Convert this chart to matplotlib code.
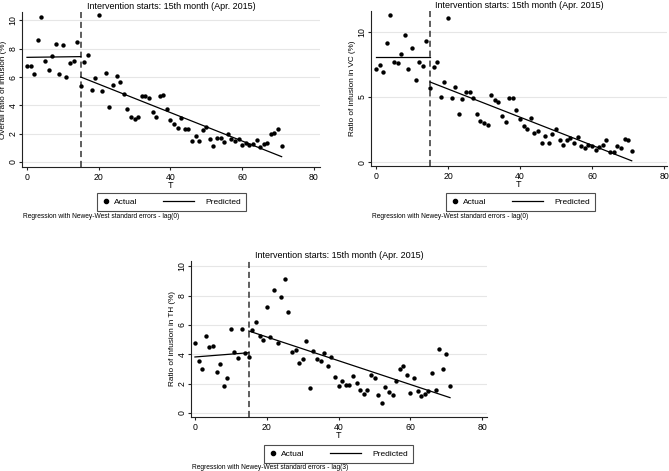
import matplotlib
matplotlib.use("Agg")
import matplotlib.pyplot as plt
from matplotlib.lines import Line2D
from matplotlib.legend_handler import HandlerLine2D

plt.rcParams['font.family'] = ['Liberation Sans', 'DejaVu Sans']

months = list(range(0, 72))

overall = [6.78, 6.78, 6.19, 8.61, 10.26, 7.13, 6.49, 7.48, 8.31, 6.24, 8.28, 6.00, 6.99, 7.11, 8.49,
           5.34, 7.04, 7.53, 5.06, 5.91, 10.35, 4.99, 6.28, 3.91, 5.41, 6.07, 5.67, 4.78, 3.76, 3.18,
           3.06, 3.15, 4.66, 4.66, 4.54, 3.55, 3.20, 4.66, 4.73, 3.72, 3.00, 2.68, 2.40, 3.10, 2.30,
           2.30, 1.46, 1.84, 1.51, 2.24, 2.49, 1.60, 1.11, 1.72, 1.72, 1.39, 1.95, 1.65, 1.51, 1.65,
           1.20, 1.32, 1.20, 1.29, 1.58, 1.04, 1.29, 1.32, 1.98, 2.07, 2.33, 1.13]

vc = [7.15, 7.46, 6.90, 9.18, 11.28, 7.69, 7.59, 8.31, 9.72, 7.13, 8.74, 6.33, 7.67, 7.36, 9.33,
      5.67, 7.33, 7.69, 5.00, 6.13, 11.03, 4.95, 5.77, 3.67, 4.82, 5.41, 5.41, 4.90, 3.67, 3.15,
      3.00, 2.85, 5.18, 4.74, 4.64, 3.56, 3.08, 4.95, 4.95, 3.97, 3.33, 2.79, 2.51, 3.38, 2.26,
      2.41, 1.44, 2.00, 1.46, 2.15, 2.51, 1.72, 1.28, 1.69, 1.87, 1.46, 1.90, 1.23, 1.05, 1.33,
      1.23, 0.95, 1.13, 1.33, 1.69, 0.79, 0.77, 1.26, 1.08, 1.77, 1.69, 0.85]

th = [4.80, 3.55, 2.98, 5.27, 4.50, 4.59, 2.82, 3.34, 1.86, 2.39, 5.75, 4.18, 3.75, 5.70, 4.07,
      3.82, 5.66, 6.18, 5.27, 5.00, 7.23, 5.16, 8.39, 4.75, 7.91, 9.14, 6.91, 4.14, 4.30, 3.39,
      3.68, 4.93, 1.70, 4.23, 3.70, 3.55, 4.09, 3.20, 3.80, 2.45, 1.82, 2.18, 1.91, 1.91, 2.55,
      2.02, 1.57, 1.30, 1.57, 2.59, 2.41, 1.23, 0.66, 1.80, 1.41, 1.20, 2.18, 3.00, 3.20, 2.57,
      1.34, 2.36, 1.52, 1.18, 1.27, 1.50, 2.73, 1.57, 4.39, 2.98, 4.02, 1.86]

# predicted segments (endpoints)
pre_T = [0, 15]
post_T = [15, 71]
overall_pre = [7.39, 7.44]
overall_post = [6.00, 0.38]
vc_pre = [8.10, 8.10]
vc_post = [6.15, 0.10]
th_pre = [3.82, 4.11]
th_post = [5.59, 1.05]

x_ticks = [0, 20, 40, 60, 80]
title_text = "Intervention starts: 15th month (Apr. 2015)"

W, H = 669, 471
fig = plt.figure(figsize=(W / 100, H / 100), dpi=100)


def make_ax(left, right, top, bottom):
    return fig.add_axes([left / W, (H - bottom) / H, (right - left) / W, (bottom - top) / H])


class MarkerLeft(HandlerLine2D):
    def get_xdata(self, legend, xdescent, ydescent, width, height, fontsize):
        xd, xm = super().get_xdata(legend, xdescent, ydescent, width, height, fontsize)
        return xd, [-xdescent + 0.0]


class LongLine(HandlerLine2D):
    def get_xdata(self, legend, xdescent, ydescent, width, height, fontsize):
        # line extends to the left of the handle box (lengths in points)
        return [-xdescent - 21.6, -xdescent + 0.7], [-xdescent]


panels = [
    dict(box=(22, 320, 12, 167), ylim=(-0.35, 10.59), xlim=(-1.39, 81.7), yticks=[0, 2, 4, 6, 8, 10],
         y=overall, pre=overall_pre, post=overall_post, ylabel="Overall ratio of infusion (%)",
         note="Regression with Newey-West standard errors - lag(0)", leg=(97, 193)),
    dict(box=(371, 667, 11, 166), ylim=(-0.3, 11.6), xlim=(-1.39, 80.8), yticks=[0, 5, 10],
         y=vc, pre=vc_pre, post=vc_post, ylabel="Ratio of infusion in VC (%)",
         note="Regression with Newey-West standard errors - lag(0)", leg=(446, 193)),
    dict(box=(191, 487, 261, 417), ylim=(-0.27, 10.36), xlim=(-1.1, 81.3), yticks=[0, 2, 4, 6, 8, 10],
         y=th, pre=th_pre, post=th_post, ylabel="Ratio of infusion in TH (%)",
         note="Regression with Newey-West standard errors - lag(3)", leg=(264, 445)),
]

for p in panels:
    ax = make_ax(*p['box'])
    ax.set_xlim(*p['xlim'])
    ax.set_ylim(*p['ylim'])
    ax.set_yticks(p['yticks'])
    ax.set_xticks(x_ticks)
    ax.grid(axis='y', color='#e6e6e6', linewidth=0.8)
    ax.set_axisbelow(True)
    for s in ['top', 'right']:
        ax.spines[s].set_visible(False)
    for s in ['left', 'bottom']:
        ax.spines[s].set_color('#222222')
        ax.spines[s].set_linewidth(0.8)
    ax.tick_params(axis='both', length=2.5, width=0.8, color='#222222', labelsize=6.3, pad=1.5)
    ax.tick_params(axis='y', pad=0.8)
    for lab in ax.get_yticklabels():
        lab.set_rotation(90)
        lab.set_va('center')
    ax.axvline(15, color='#333333', linestyle=(0, (4, 2.5)), linewidth=1.1, zorder=2)
    ax.scatter(months, p['y'], s=10, color='black', zorder=3, linewidths=0)
    ax.plot(pre_T, p['pre'], color='black', linewidth=0.9, zorder=3)
    ax.plot(post_T, p['post'], color='black', linewidth=0.9, zorder=3)
    ax.set_xlabel("T", fontsize=6.5, labelpad=-0.5)
    ax.set_ylabel(p['ylabel'], fontsize=5.9, labelpad=0.8)
    ax.set_title(title_text, fontsize=6.5, pad=2.5)
    h_act = Line2D([], [], marker='o', color='black', linestyle='none', markersize=3)
    h_pred = Line2D([], [], color='black', linewidth=0.9)
    lx, ly = p['leg']
    leg = fig.legend([h_act, h_pred], ["Actual", "Predicted"], ncol=2, loc='upper left',
                     bbox_to_anchor=(lx / W, 1 - ly / H), bbox_transform=fig.transFigure,
                     fontsize=6, frameon=True, fancybox=False, edgecolor='#222222',
                     handlelength=0.96, handletextpad=0.48, columnspacing=6.7,
                     borderpad=0.6, borderaxespad=0,
                     handler_map={h_act: MarkerLeft(numpoints=1), h_pred: LongLine()})
    leg.get_frame().set_linewidth(0.8)
    ax.text(0.005, -0.3, p['note'], transform=ax.transAxes, fontsize=4.8, ha='left', va='top')

fig.savefig("out.png", dpi=100)
